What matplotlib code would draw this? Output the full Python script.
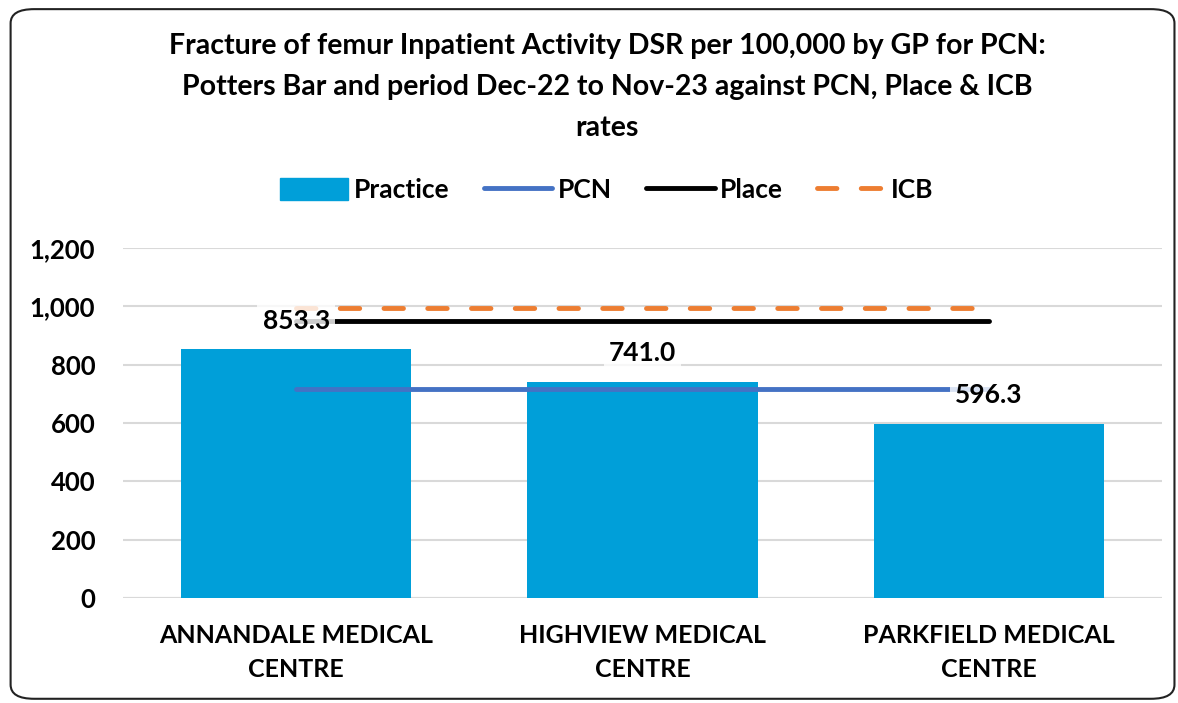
import numpy as np
import matplotlib.pyplot as plt
from matplotlib.patches import FancyBboxPatch
from matplotlib.lines import Line2D
from matplotlib.patches import Patch

plt.rcParams['font.family'] = ['Lato', 'DejaVu Sans']
plt.rcParams['font.weight'] = 'bold'

categories = ["ANNANDALE MEDICAL\nCENTRE", "HIGHVIEW MEDICAL\nCENTRE", "PARKFIELD MEDICAL\nCENTRE"]
practice = [853.3, 741.0, 596.3]
pcn = [716, 716, 716]
place = [950, 950, 950]
icb = [994, 994, 994]

fig = plt.figure(figsize=(11.78, 7.03), dpi=100)
ax = fig.add_axes([0.1044, 0.1494, 0.882, 0.4977])

dash = (0, (4, 5))
x = np.arange(len(categories))
ax.bar(x, practice, width=0.665, color="#009FD9", zorder=2)
ax.plot(x, icb, color="#ED7D31", lw=3.5, ls=dash, solid_capstyle="round",
        dash_capstyle="round", zorder=3)
ax.plot(x, place, color="black", lw=3.5, solid_capstyle="round", zorder=3)
ax.plot(x, pcn, color="#4472C4", lw=3.5, solid_capstyle="round", zorder=3)

for xi, v in zip(x, practice):
    ax.annotate(f"{v:.1f}", (xi, v), xytext=(0, 12), textcoords="offset points",
                ha="center", va="bottom", fontsize=19, fontweight="bold", zorder=5,
                bbox=dict(boxstyle="square,pad=0.2", fc="white", ec="none", alpha=0.8))

ax.set_xlim(-0.5, 2.5)
ax.set_ylim(0, 1200)
ax.set_yticks(np.arange(0, 1201, 200))
ax.set_yticklabels([f"{t:,}" for t in range(0, 1201, 200)], fontsize=18.5, fontweight="bold")
ax.set_xticks(x)
ax.set_xticklabels(categories, fontsize=18, fontweight="bold", linespacing=1.58)
ax.tick_params(axis="y", length=0, pad=20)
ax.tick_params(axis="x", length=0, pad=19)
ax.grid(axis="y", color="#D9D9D9", lw=1.5, zorder=0)
ax.set_axisbelow(True)
for s in ax.spines.values():
    s.set_visible(False)
ax.axhline(0, color="#D9D9D9", lw=1.5, zorder=1)

fig.text(0.5155, 0.953, "Fracture of femur Inpatient Activity DSR per 100,000 by GP for PCN:\n"
         "Potters Bar and period Dec-22 to Nov-23 against PCN, Place & ICB\nrates",
         ha="center", va="top", fontsize=20.5, fontweight="bold", linespacing=1.72)

handles = [Patch(color="#009FD9"),
           Line2D([], [], color="#4472C4", lw=3.5, solid_capstyle="round"),
           Line2D([], [], color="black", lw=3.5, solid_capstyle="round"),
           Line2D([], [], color="#ED7D31", lw=3.5, ls=dash, dash_capstyle="round")]
fig.legend(handles, ["Practice", "PCN", "Place", "ICB"], loc="center",
           bbox_to_anchor=(0.515, 0.73), ncol=4, frameon=False, fontsize=19,
           handlelength=2.6, handletextpad=0.2, columnspacing=1.3, handleheight=0.9)

fig.patches.append(FancyBboxPatch((0.009, 0.006), 0.988, 0.981, boxstyle="round,pad=0,rounding_size=0.02",
                                  transform=fig.transFigure, fc="none", ec="#222222", lw=1.5))

fig.savefig("out.png", dpi=100)
